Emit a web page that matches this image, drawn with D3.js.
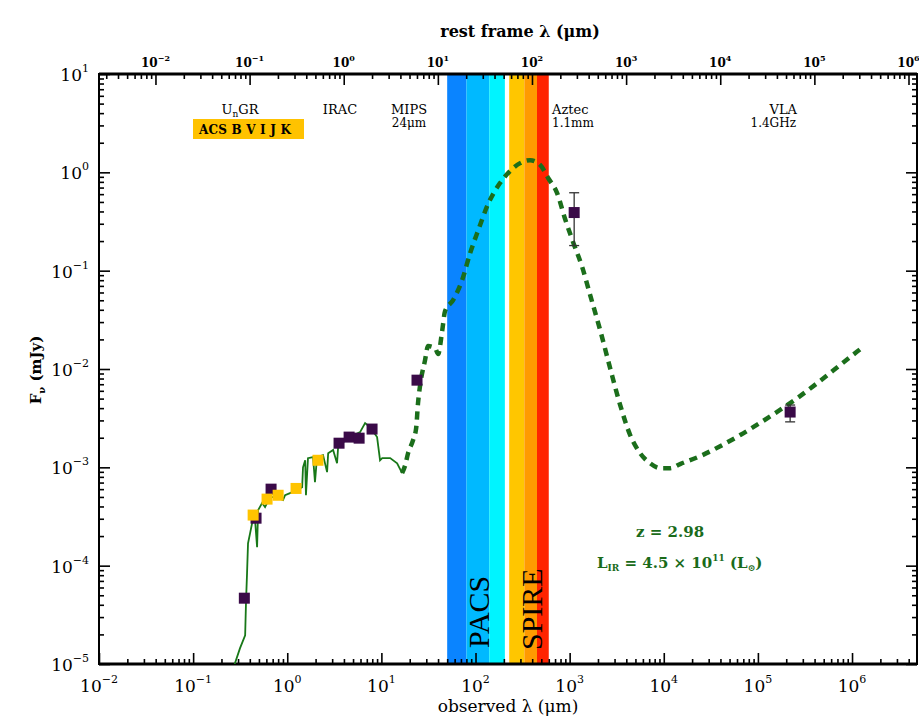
<!DOCTYPE html>
<html>
<head>
<script src="https://cdnjs.cloudflare.com/ajax/libs/d3/7.8.5/d3.min.js"></script>
<style>
  body { margin: 0; background: #fff; }
  svg text { font-family: 'DejaVu Serif', serif; fill: #000; }
  .band-label { font-family: 'Liberation Serif', 'Times New Roman', serif; font-size: 30px; }
  .note { fill: #1a6b1a; font-weight: bold; font-size: 15px; }
</style>
</head>
<body>
<script>
// redshift of the source, used for the rest frame axis
const z = 2.98

// Herschel bands (observed um)
const pacsLo = [50, 80, 140]
const pacsHi = [80, 140, 205]
const pacsColors = ['#0a84ff', '#00b9ff', '#00f4ff']
const spireLo = [228, 330, 450]
const spireHi = [330, 450, 600]
const spireColors = ['#ffc600', '#ff9a00', '#ff2400']

// stellar template (thin line)
const stellarLam = [0.259, 0.315, 0.357, 0.365, 0.374, 0.383, 0.403, 0.423, 0.455, 0.478, 0.49, 0.54, 0.581, 0.656, 0.78, 0.902, 0.948, 1.07, 1.27, 1.44, 1.47, 1.55, 1.58, 1.66, 1.88, 1.97, 2.07, 2.4, 2.65, 2.72, 3.07, 3.38, 3.47, 3.92, 4.65, 5.94, 6.71, 7.59, 9.0, 9.68, 10.2, 12.4, 14.7, 16.6]
const stellarFlux = [8.3e-6, 1.45e-5, 1.96e-5, 4.46e-5, 8.4e-5, 1.69e-4, 2.14e-4, 2.7e-4, 2.9e-4, 1.54e-4, 3.67e-4, 4.33e-4, 3.94e-4, 4.98e-4, 4.98e-4, 4.64e-4, 5.21e-4, 5.47e-4, 5.86e-4, 6.29e-4, 1.0e-3, 1.18e-3, 5.2e-4, 1.24e-3, 1.27e-3, 7.07e-4, 1.27e-3, 1.33e-3, 8.93e-4, 1.39e-3, 1.5e-3, 1.1e-3, 1.6e-3, 1.8e-3, 2.03e-3, 2.28e-3, 2.82e-3, 2.56e-3, 2.03e-3, 1.18e-3, 1.24e-3, 1.24e-3, 1.1e-3, 8.73e-4]

// dust + radio template (dashed)
const dustLam = [16.6, 17.9, 19.2, 21.7, 23.4, 24.5, 25.8, 29.1, 31.3, 37.2, 40.1, 44.2, 47.5, 57.8, 72.1, 87.7, 107, 136, 182, 233, 298, 380, 486, 591, 736, 895, 1089, 1358, 1652, 2108, 2692, 3443, 4395, 5610, 7160, 9160, 1.17e4, 1.49e4, 2.44e4, 3.97e4, 6.49e4, 8.91e4, 1.53e5, 2.62e5, 4.27e5, 7.5e5, 1.22e6]
const dustFlux = [8.73e-4, 1.05e-3, 1.39e-3, 1.89e-3, 2.5e-3, 4.5e-3, 6.86e-3, 0.0123, 0.0171, 0.0163, 0.0142, 0.0243, 0.0388, 0.0502, 0.0802, 0.151, 0.259, 0.476, 0.778, 1.03, 1.24, 1.33, 1.19, 0.875, 0.615, 0.335, 0.195, 0.109, 0.0565, 0.0249, 0.0102, 4.3e-3, 2.13e-3, 1.39e-3, 1.1e-3, 9.8e-4, 9.8e-4, 1.08e-3, 1.3e-3, 1.64e-3, 2.13e-3, 2.56e-3, 3.56e-3, 5.06e-3, 7.19e-3, 0.011, 0.0159]

// photometry
const purpleLam = [0.35, 0.466, 0.673, 3.55, 4.54, 5.8, 7.96, 23.9, 1117, 2.2e5]
const purpleFlux = [4.67e-5, 3.04e-4, 6.0e-4, 1.76e-3, 2.03e-3, 1.98e-3, 2.45e-3, 7.7e-3, 0.39, 3.65e-3]
const yellowLam = [0.434, 0.61, 0.80, 1.24, 2.12]
const yellowFlux = [3.27e-4, 4.75e-4, 5.2e-4, 6.1e-4, 1.18e-3]
const errLam = [1117, 2.2e5]
const errLo = [0.18, 2.9e-3]
const errHi = [0.62, 4.3e-3]

const W = 919, H = 720
const L = 99, R = 917, T = 74, B = 664

const x = d3.scaleLog().domain([1e-2, 4.9e6]).range([L, R])
const xRest = d3.scaleLog().domain([1e-2 / (1 + z), 4.9e6 / (1 + z)]).range([L, R])
const y = d3.scaleLog().domain([1e-5, 10]).range([B, T])

const svg = d3.select('body').append('svg').attr('width', W).attr('height', H)

svg.append('clipPath').attr('id', 'plot')
  .append('rect').attr('x', L).attr('y', T).attr('width', R - L).attr('height', B - T)

// bands
const bands = pacsLo.map((d, i) => ({ lo: d, hi: pacsHi[i], c: pacsColors[i] }))
  .concat(spireLo.map((d, i) => ({ lo: d, hi: spireHi[i], c: spireColors[i] })))
svg.append('g').selectAll('rect').data(bands).enter().append('rect')
  .attr('x', d => x(d.lo)).attr('width', d => x(d.hi) - x(d.lo))
  .attr('y', T).attr('height', B - T)
  .attr('fill', d => d.c)

svg.append('text').attr('class', 'band-label')
  .attr('transform', `translate(${(x(pacsLo[1]) + x(pacsHi[1])) / 2 + 11},648) rotate(-90)`)
  .text('PACS')
svg.append('text').attr('class', 'band-label')
  .attr('transform', `translate(${(x(spireLo[1]) + x(spireHi[1])) / 2 + 11},650) rotate(-90)`)
  .text('SPIRE')

// ticks
function logTicks(scale) {
  const [a, b] = scale.domain()
  const out = []
  for (let e = Math.floor(Math.log10(a)); e <= Math.ceil(Math.log10(b)); e++) {
    for (let k = 1; k < 10; k++) {
      const v = k * Math.pow(10, e)
      if (v >= a * 0.999 && v <= b * 1.001) out.push({ v: v, major: k === 1, e: e })
    }
  }
  return out
}

function drawAxis(axisFn, scale, tr, minorLen, majorLen) {
  const t = logTicks(scale)
  const gMin = svg.append('g').attr('transform', tr)
    .call(axisFn(scale).tickValues(t.filter(d => !d.major).map(d => d.v)).tickSize(minorLen).tickFormat(''))
  const gMaj = svg.append('g').attr('transform', tr)
    .call(axisFn(scale).tickValues(t.filter(d => d.major).map(d => d.v)).tickSize(majorLen).tickFormat(''))
  gMin.select('.domain').remove()
  gMaj.select('.domain').remove()
  svg.selectAll('.tick line').attr('stroke', '#000').attr('stroke-width', 1.6)
  return t.filter(d => d.major)
}

const bottomMaj = drawAxis(d3.axisBottom, x, `translate(0,${B})`, -5, -11)
drawAxis(d3.axisTop, xRest, `translate(0,${T})`, -5, -11)
const leftMaj = drawAxis(d3.axisLeft, y, `translate(${L},0)`, -5, -11)
drawAxis(d3.axisRight, y, `translate(${R},0)`, -5, -11)

function pow10(sel, e, size, supSize, rise) {
  sel.append('tspan').text('10')
  sel.append('tspan').attr('font-size', supSize).attr('dy', -rise).text(String(e).replace('-', '\u2212'))
}

bottomMaj.forEach(d => {
  const t = svg.append('text').attr('x', x(d.v)).attr('y', 692)
    .attr('text-anchor', 'middle').attr('font-size', 17)
  pow10(t, d.e, 17, 11, 9)
})
leftMaj.forEach(d => {
  const t = svg.append('text').attr('x', 89).attr('y', y(d.v) + 7)
    .attr('text-anchor', 'end').attr('font-size', 17)
  pow10(t, d.e, 17, 11, 9)
})
logTicks(xRest).filter(d => d.major).forEach(d => {
  const t = svg.append('text').attr('x', xRest(d.v)).attr('y', 67)
    .attr('text-anchor', 'middle').attr('font-size', 12).attr('font-weight', 'bold')
  pow10(t, d.e, 12, 8, 6)
})

// frame
svg.append('rect').attr('x', L).attr('y', T).attr('width', R - L).attr('height', B - T)
  .attr('fill', 'none').attr('stroke', '#000').attr('stroke-width', 2)
svg.append('line').attr('x1', L).attr('x2', R).attr('y1', B).attr('y2', B).attr('stroke', '#000').attr('stroke-width', 3)
svg.append('line').attr('x1', L).attr('x2', R).attr('y1', T).attr('y2', T).attr('stroke', '#000').attr('stroke-width', 3)

// axis titles
const bt = svg.append('text').attr('x', 508).attr('y', 712).attr('text-anchor', 'middle').attr('font-size', 17)
bt.text('observed \u03bb (\u03bcm)')
svg.append('text').attr('x', 520).attr('y', 37).attr('text-anchor', 'middle')
  .attr('font-size', 16).attr('font-weight', 'bold').text('rest frame \u03bb (\u03bcm)')
const yl = svg.append('text').attr('transform', 'translate(41,370) rotate(-90)')
  .attr('text-anchor', 'middle').attr('font-size', 15).attr('font-weight', 'bold')
yl.append('tspan').text('F')
yl.append('tspan').attr('font-size', 10).attr('dy', 4).text('\u03bd')
yl.append('tspan').attr('dy', -4).text(' (mJy)')

// filter labels
svg.append('rect').attr('x', 193).attr('y', 119).attr('width', 111).attr('height', 20).attr('fill', '#ffc200')
svg.append('text').attr('x', 199).attr('y', 134).attr('font-size', 12).attr('font-weight', 'bold')
  .attr('letter-spacing', 0.2).text('ACS B V I J K')
const ugr = svg.append('text').attr('x', 240).attr('y', 114).attr('text-anchor', 'middle').attr('font-size', 13)
ugr.append('tspan').text('U')
ugr.append('tspan').attr('font-size', 9).attr('dy', 3).text('n')
ugr.append('tspan').attr('dy', -3).text('GR')
svg.append('text').attr('x', 340).attr('y', 114).attr('text-anchor', 'middle').attr('font-size', 13).text('IRAC')
svg.append('text').attr('x', 409).attr('y', 114).attr('text-anchor', 'middle').attr('font-size', 13).text('MIPS')
svg.append('text').attr('x', 409).attr('y', 127).attr('text-anchor', 'middle').attr('font-size', 12).text('24\u03bcm')
svg.append('text').attr('x', 552).attr('y', 114).attr('font-size', 13).text('Aztec')
svg.append('text').attr('x', 552).attr('y', 127).attr('font-size', 12).text('1.1mm')
svg.append('text').attr('x', 797).attr('y', 114).attr('text-anchor', 'end').attr('font-size', 13).text('VLA')
svg.append('text').attr('x', 796).attr('y', 127).attr('text-anchor', 'end').attr('font-size', 12).text('1.4GHz')

// model curves
const plot = svg.append('g').attr('clip-path', 'url(#plot)')
const line = d3.line().x(d => x(d[0])).y(d => y(d[1]))
plot.append('path').datum(stellarLam.map((d, i) => [d, stellarFlux[i]]))
  .attr('d', line).attr('fill', 'none').attr('stroke', '#187818').attr('stroke-width', 1.8)
plot.append('path').datum(dustLam.map((d, i) => [d, dustFlux[i]]))
  .attr('d', line.curve(d3.curveMonotoneX)).attr('fill', 'none')
  .attr('stroke', '#1b6e1b').attr('stroke-width', 4.5).attr('stroke-dasharray', '8,6')

// error bars
const eb = plot.append('g').attr('stroke', '#333').attr('stroke-width', 1.3)
errLam.forEach((d, i) => {
  eb.append('line').attr('x1', x(d)).attr('x2', x(d)).attr('y1', y(errLo[i])).attr('y2', y(errHi[i]))
  eb.append('line').attr('x1', x(d) - 5).attr('x2', x(d) + 5).attr('y1', y(errLo[i])).attr('y2', y(errLo[i]))
  eb.append('line').attr('x1', x(d) - 5).attr('x2', x(d) + 5).attr('y1', y(errHi[i])).attr('y2', y(errHi[i]))
})

// photometry squares
const s = 11
plot.append('g').selectAll('rect').data(purpleLam.map((d, i) => [d, purpleFlux[i]])).enter().append('rect')
  .attr('x', d => x(d[0]) - s / 2).attr('y', d => y(d[1]) - s / 2).attr('width', s).attr('height', s)
  .attr('fill', '#3a0a48')
plot.append('g').selectAll('rect').data(yellowLam.map((d, i) => [d, yellowFlux[i]])).enter().append('rect')
  .attr('x', d => x(d[0]) - s / 2).attr('y', d => y(d[1]) - s / 2).attr('width', s).attr('height', s)
  .attr('fill', '#ffc400')

// annotation
svg.append('text').attr('class', 'note').attr('x', 636).attr('y', 537).text('z = 2.98')
const lir = svg.append('text').attr('class', 'note').attr('x', 597).attr('y', 568)
lir.append('tspan').text('L')
lir.append('tspan').attr('font-size', 9).attr('dy', 3).text('IR')
lir.append('tspan').attr('dy', -3).text(' = 4.5 \u00d7 10')
lir.append('tspan').attr('font-size', 9).attr('dy', -7).text('11')
lir.append('tspan').attr('dy', 7).text(' (L')
lir.append('tspan').attr('font-size', 9).attr('dy', 3).text('\u2299')
lir.append('tspan').attr('dy', -3).text(')')
</script>
</body>
</html>
